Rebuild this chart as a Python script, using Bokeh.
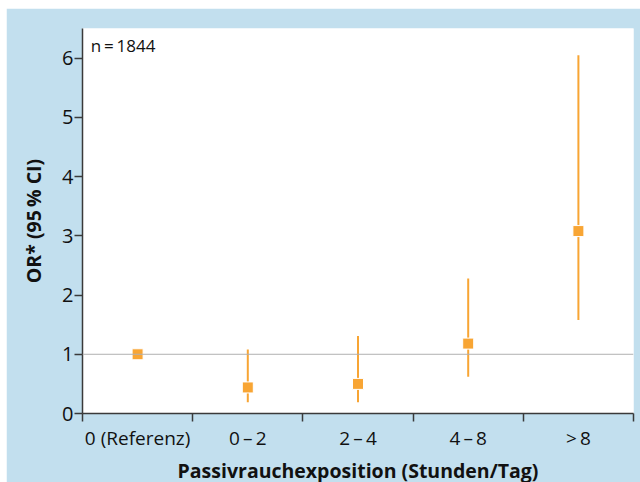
from bokeh.plotting import figure
from bokeh.layouts import column, row
from bokeh.models import FixedTicker, Span, Label, Spacer
from bokeh.embed import file_html
from bokeh.resources import INLINE

categories = ["0 (Referenz)", "0\u2009\u2013\u20092", "2\u2009\u2013\u20094", "4\u2009\u2013\u20098", ">\u20098"]
odds_ratio = [1.0, 0.44, 0.50, 1.18, 3.08]
ci_lower = [float("nan"), 0.19, 0.19, 0.62, 1.58]
ci_upper = [float("nan"), 1.08, 1.31, 2.28, 6.05]
y_ticks = [0, 1, 2, 3, 4, 5, 6]
n_text = "n\u2009=\u20091844"

FONT = "Open Sans"
BLUE = "#C2DFEE"
ORANGE = "#F8A534"
AXIS = "#3a3a3a"
TXT = "#111111"

xc = [i + 0.5 for i in range(len(categories))]

p = figure(
    output_backend="svg", toolbar_location=None,
    frame_width=551, frame_height=385,
    min_border_left=76, min_border_right=7, min_border_top=20, min_border_bottom=69,
    x_range=(0, len(categories)), y_range=(0, 6.5),
    background_fill_color="white", border_fill_color=BLUE,
)
p.outline_line_color = None
p.grid.visible = False

# reference line at OR = 1
p.add_layout(Span(location=1, dimension="width", line_color="#b0b0b0", line_width=1))

p.segment(x0=xc, y0=ci_lower, x1=xc, y1=ci_upper, line_color=ORANGE, line_width=2)
p.scatter(x=xc, y=odds_ratio, marker="square", size=11, fill_color=ORANGE,
          line_color="white", line_width=1)

p.add_layout(Label(x=0.075, y=6.22, text=n_text, text_font=FONT, text_font_size="17px",
                   text_baseline="middle", text_align="left", text_color=TXT))

# x axis
xa = p.xaxis[0]
xa.ticker = FixedTicker(ticks=xc, minor_ticks=list(range(len(categories) + 1)))
xa.major_label_overrides = {x: c for x, c in zip(xc, categories)}
xa.major_tick_out = 0
xa.major_tick_in = 0
xa.minor_tick_out = 8
xa.minor_tick_in = 0
xa.minor_tick_line_color = AXIS
xa.minor_tick_line_width = 1.5
xa.axis_line_color = AXIS
xa.axis_line_width = 1.5
xa.major_label_standoff = 3
xa.major_label_text_font = FONT
xa.major_label_text_font_size = "19px"
xa.major_label_text_color = TXT
xa.axis_label = "Passivrauchexposition (Stunden/Tag)"
xa.axis_label_text_font = FONT
xa.axis_label_text_font_style = "bold"
xa.axis_label_text_font_size = "19.5px"
xa.axis_label_text_color = TXT
xa.axis_label_standoff = 3

# y axis
ya = p.yaxis[0]
ya.ticker = FixedTicker(ticks=y_ticks)
ya.minor_tick_line_color = None
ya.major_tick_out = 8
ya.major_tick_in = 0
ya.major_tick_line_color = AXIS
ya.major_tick_line_width = 1.5
ya.axis_line_color = AXIS
ya.axis_line_width = 1.5
ya.major_label_standoff = 1
ya.major_label_text_font = FONT
ya.major_label_text_font_size = "20px"
ya.major_label_text_color = TXT
ya.axis_label = "OR* (95\u2009% CI)"
ya.axis_label_text_font = FONT
ya.axis_label_text_font_style = "bold"
ya.axis_label_text_font_size = "19.5px"
ya.axis_label_text_color = TXT
ya.axis_label_standoff = 12

layout = column(Spacer(height=8), row(Spacer(width=6), p))

open("out.html", "w").write(file_html(layout, INLINE))
